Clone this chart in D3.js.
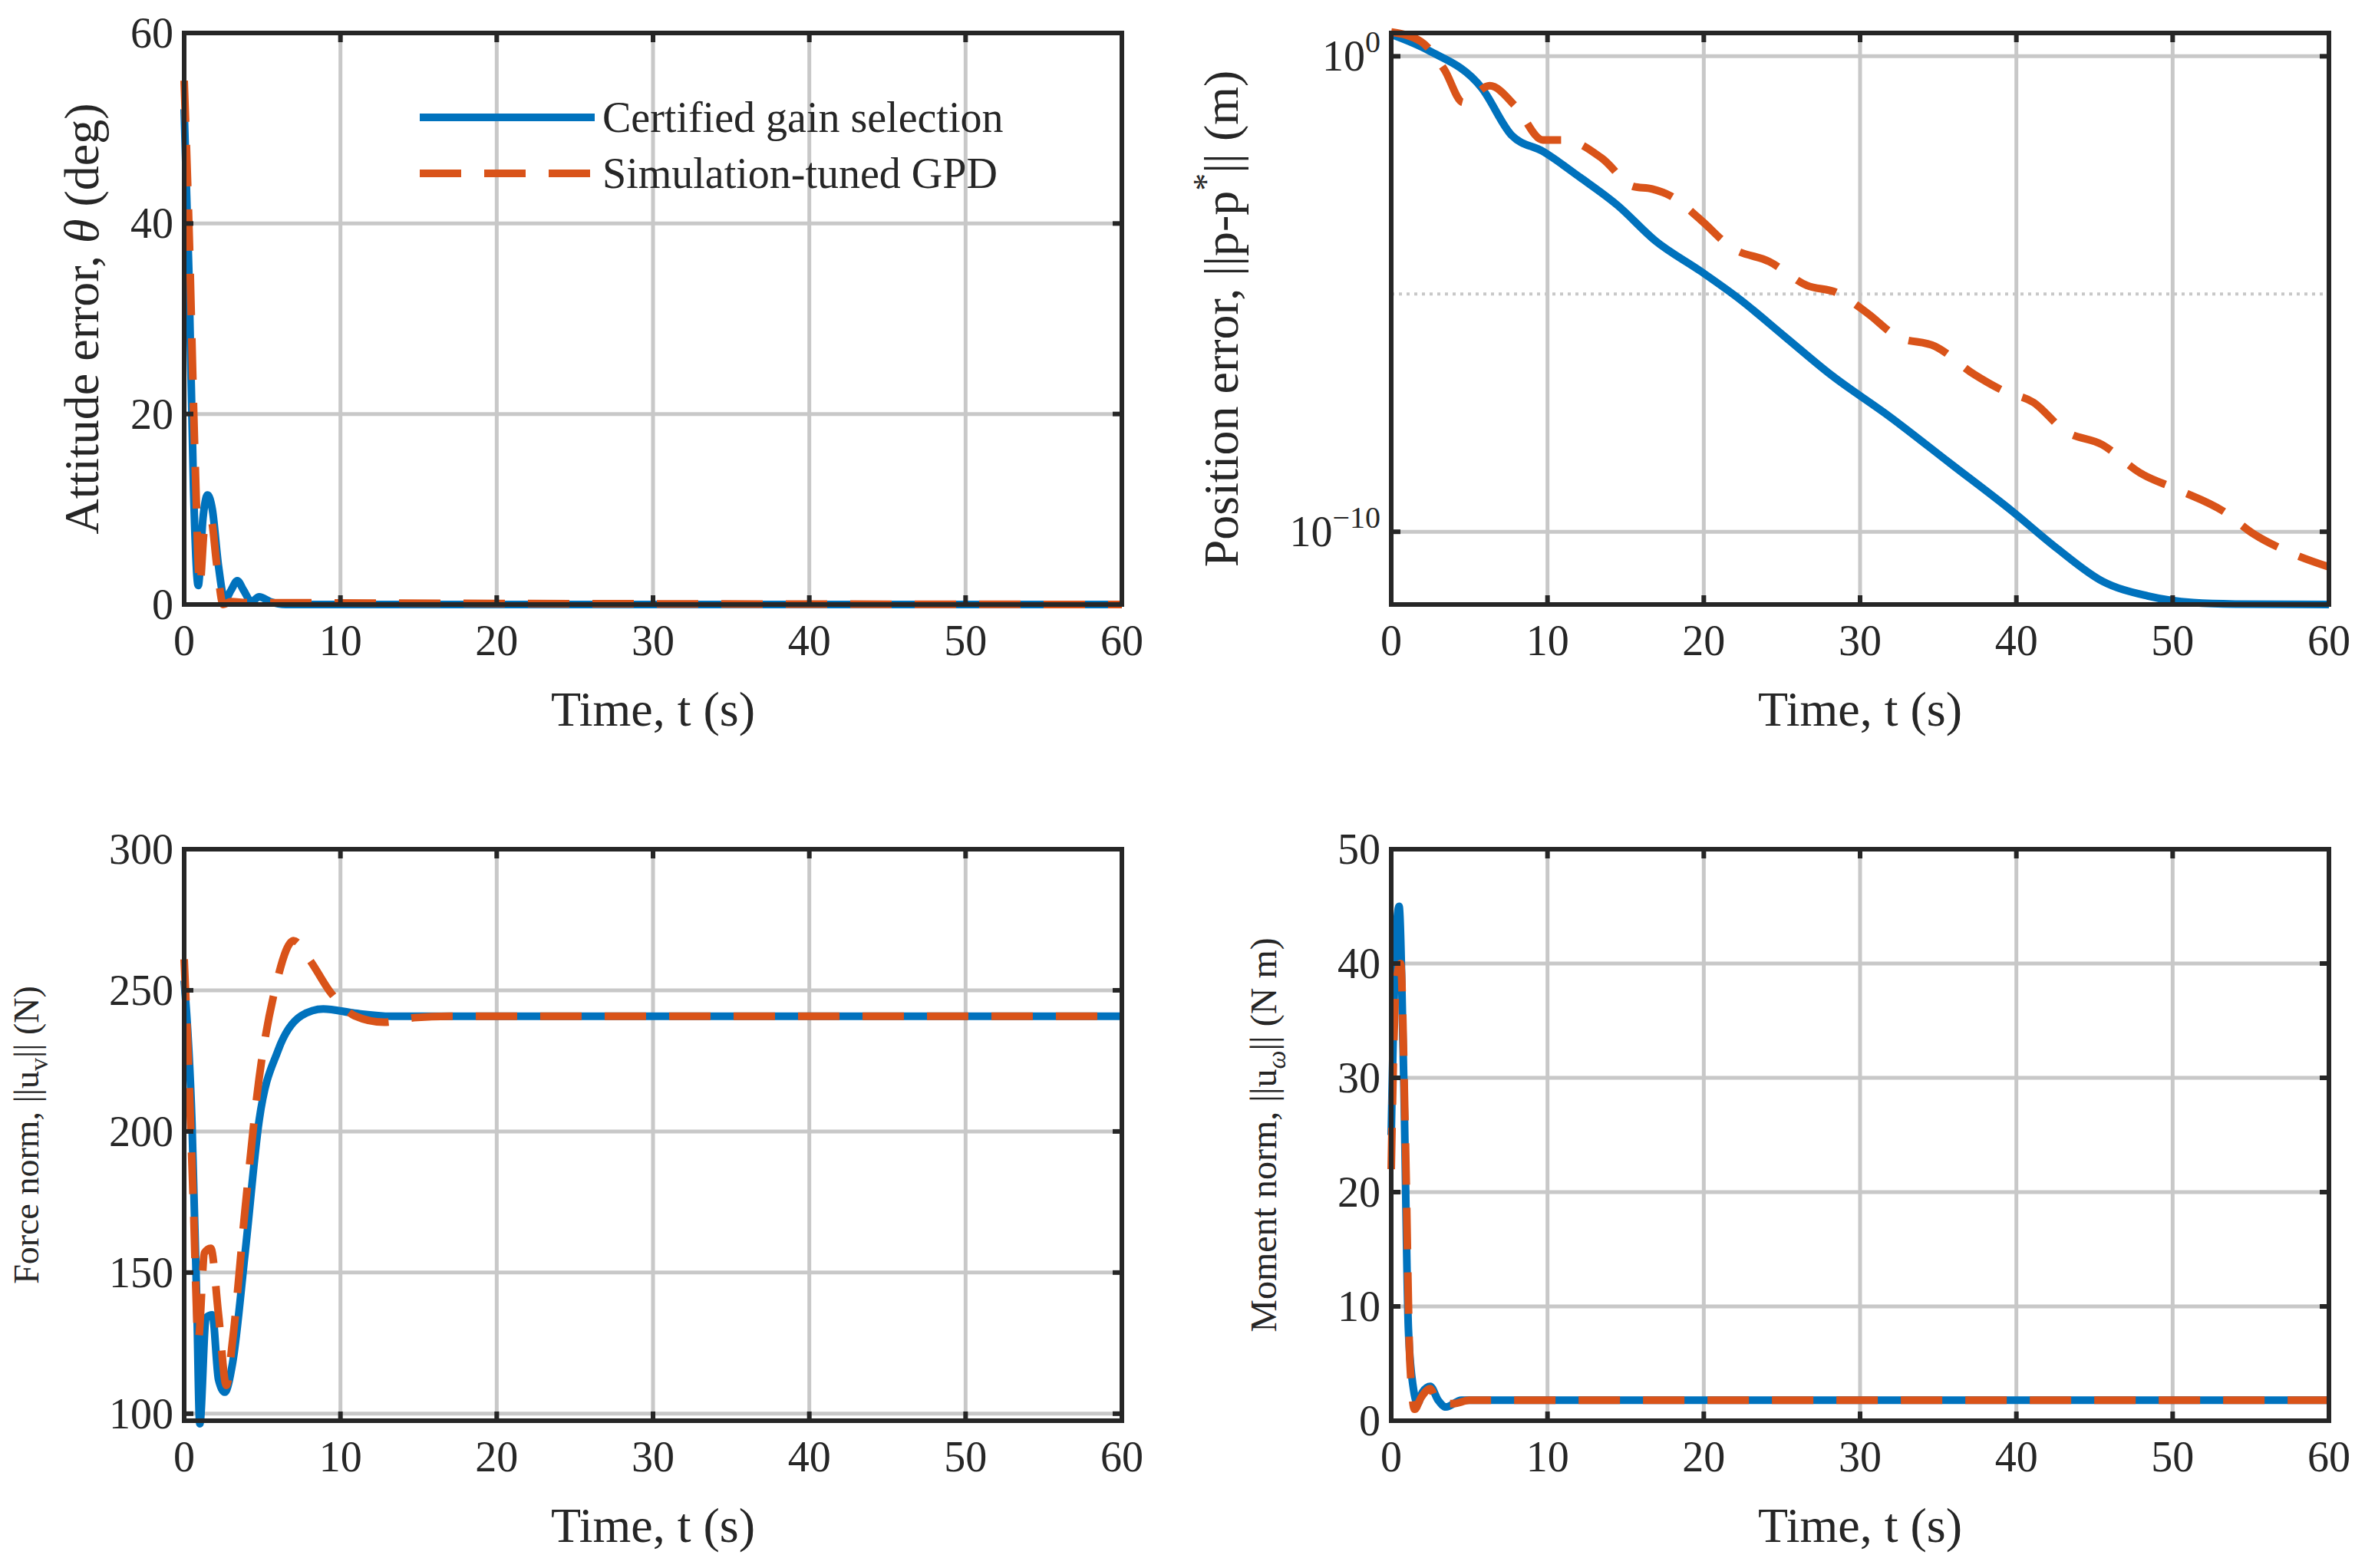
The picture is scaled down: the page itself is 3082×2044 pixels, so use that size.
<!DOCTYPE html>
<html><head><meta charset="utf-8">
<script src="https://cdn.jsdelivr.net/npm/d3@7"></script>
<style>body{margin:0;background:#fff}text{font-family:"Liberation Serif",serif;fill:#262626}</style>
</head><body><svg id="c" width="3082" height="2044"></svg>
<script>
/* ---- data ---- */
const timeTicks = [0, 10, 20, 30, 40, 50, 60];
const seriesNames = ["Certified gain selection", "Simulation-tuned GPD"];

const attBlueT = [0, 0.3, 0.6, 0.9, 1.2, 1.5, 1.8, 2.2, 2.6, 3.0, 3.4, 3.8, 4.3, 4.8, 5.5, 6.5, 60];
const attBlueV = [52, 35, 12, 2, 9, 11.5, 10, 4, 0.5, 1.5, 2.5, 1.5, 0.3, 0.8, 0.3, 0, 0];
const attRedT = [0, 0.3, 0.7, 1.0, 1.3, 1.7, 2.1, 2.5, 3, 4, 60];
const attRedV = [55, 40, 15, 2, 8, 9, 4, 0, 0.3, 0.2, 0];

const posBlueT = [0, 2.4, 5.8, 7.7, 9.7, 12.1, 14.5, 16.9, 19.8, 22.3, 25.2, 28.1, 31.9, 35.8, 39.7, 42.6, 45.5, 48.4, 51.3, 54, 60];
const posBlueLog = [0.46, 0.12, -0.67, -1.66, -2.0, -2.55, -3.14, -3.88, -4.52, -5.11, -5.9, -6.69, -7.58, -8.57, -9.56, -10.35, -11.04, -11.35, -11.49, -11.52, -11.53];
const posRedT = [0, 1.9, 3.4, 4.6, 6.3, 8, 9.7, 11.1, 13.5, 15.5, 16.7, 17.9, 19.8, 21.8, 24.2, 26.6, 28.5, 30.5, 32.4, 34.8, 37.3, 39.2, 41.1, 43.1, 45.5, 47.9, 50.3, 53.2, 55.2, 57.6, 60];
const posRedLog = [0.51, 0.31, -0.28, -0.97, -0.62, -1.07, -1.76, -1.76, -2.15, -2.74, -2.79, -2.94, -3.44, -4.03, -4.32, -4.82, -4.97, -5.41, -5.9, -6.1, -6.69, -7.04, -7.28, -7.88, -8.17, -8.76, -9.11, -9.56, -10.05, -10.45, -10.74];

const forceBlueT = [0, 0.5, 0.8, 1.0, 1.4, 1.8, 2.2, 2.6, 3.1, 3.9, 4.8, 6, 7.5, 8.9, 10.9, 13.3, 60];
const forceBlueV = [253.5, 203, 141, 96.4, 134, 135, 112, 107.6, 118, 157, 204, 228.6, 241, 243.4, 241.9, 240.8, 240.8];
const forceRedT = [0, 0.2, 0.6, 0.9, 1.3, 1.7, 2.2, 2.7, 3.1, 3.9, 4.8, 5.8, 7, 8, 9.4, 10.9, 12.8, 14.7, 17, 60];
const forceRedV = [261, 234.9, 172.5, 126, 157, 158.6, 135, 110, 126, 172.5, 219, 250, 267.6, 261, 249, 241, 238.7, 240.3, 240.8, 240.8];

const momBlueT = [0, 0.3, 0.5, 0.8, 1.1, 1.4, 1.7, 2.0, 2.5, 3.0, 3.5, 4.5, 6, 60];
const momBlueV = [25, 42, 45, 30, 8, 3, 1.5, 2.5, 3, 1.8, 1.2, 1.8, 1.8, 1.8];
const momRedT = [0, 0.3, 0.6, 0.9, 1.2, 1.5, 1.9, 2.5, 3, 4, 5, 60];
const momRedV = [22, 38, 40, 25, 5, 1.0, 2, 2.8, 1.5, 1.5, 1.8, 1.8];

/* ---- layout ---- */
const svg = d3.select("#c");
const BLUE = "#0072BD", RED = "#D95319";
const DASH = "54,30";
const colX = [240, 1813], rowY = [43, 1107], pw = 1222, ph = 745;

function zip(t, v, f) { return t.map((d, i) => [d, f ? f(v[i]) : v[i]]); }

function panel(col, row, opt) {
  const g = svg.append("g").attr("transform", `translate(${colX[col]},${rowY[row]})`);
  const x = d3.scaleLinear().domain([0, 60]).range([0, pw]);
  const y = opt.log ? d3.scaleLog().domain(opt.domain).range([ph, 0])
                    : d3.scaleLinear().domain(opt.domain).range([ph, 0]);
  g.append("rect").attr("width", pw).attr("height", ph).attr("fill", "#fff");
  // grid
  g.selectAll(".gx").data(timeTicks.slice(1, -1)).join("line")
    .attr("x1", d => x(d)).attr("x2", d => x(d)).attr("y1", 0).attr("y2", ph)
    .attr("stroke", "#c8c8c8").attr("stroke-width", 5);
  g.selectAll(".gy").data(opt.ticks).join("line")
    .attr("x1", 0).attr("x2", pw).attr("y1", d => y(d)).attr("y2", d => y(d))
    .attr("stroke", "#c8c8c8").attr("stroke-width", 5);
  if (opt.minor) g.selectAll(".gm").data(opt.minor).join("line")
    .attr("x1", 0).attr("x2", pw).attr("y1", d => y(d)).attr("y2", d => y(d))
    .attr("stroke", "#c8c8c8").attr("stroke-width", 4).attr("stroke-dasharray", "4,6");
  // lines
  const clipId = "clip" + col + row;
  g.append("clipPath").attr("id", clipId).append("rect").attr("x", -6).attr("y", -10).attr("width", pw + 12).attr("height", ph + 20);
  const line = d3.line().x(d => x(d[0])).y(d => y(d[1])).curve(d3.curveMonotoneX);
  g.append("path").datum(opt.blue).attr("d", line).attr("fill", "none")
    .attr("stroke", BLUE).attr("stroke-width", 10).attr("clip-path", `url(#${clipId})`);
  g.append("path").datum(opt.red).attr("d", line).attr("fill", "none")
    .attr("stroke", RED).attr("stroke-width", 10).attr("stroke-dasharray", DASH).attr("clip-path", `url(#${clipId})`);
  // box + ticks
  g.append("rect").attr("width", pw).attr("height", ph).attr("fill", "none").attr("stroke", "#262626").attr("stroke-width", 6);
  timeTicks.forEach(t => {
    g.append("line").attr("x1", x(t)).attr("x2", x(t)).attr("y1", ph).attr("y2", ph - 12).attr("stroke", "#262626").attr("stroke-width", 6);
    g.append("line").attr("x1", x(t)).attr("x2", x(t)).attr("y1", 0).attr("y2", 12).attr("stroke", "#262626").attr("stroke-width", 6);
    g.append("text").attr("x", x(t)).attr("y", ph + 66).attr("text-anchor", "middle").attr("font-size", 56).text(t);
  });
  opt.ticks.forEach(v => {
    g.append("line").attr("x1", 0).attr("x2", 12).attr("y1", y(v)).attr("y2", y(v)).attr("stroke", "#262626").attr("stroke-width", 6);
    g.append("line").attr("x1", pw).attr("x2", pw - 12).attr("y1", y(v)).attr("y2", y(v)).attr("stroke", "#262626").attr("stroke-width", 6);
    const tx = g.append("text").attr("x", -14).attr("y", y(v) + 19).attr("text-anchor", "end").attr("font-size", 56);
    if (opt.log) {
      const e = Math.round(Math.log10(v));
      tx.append("tspan").text("10");
      tx.append("tspan").attr("dy", -24).attr("font-size", 40).text(e < 0 ? "\u2212" + (-e) : e);
    } else tx.text(v);
  });
  g.append("text").attr("x", pw / 2).attr("y", ph + 158).attr("text-anchor", "middle").attr("font-size", 64).text("Time, t (s)");
  const yl = g.append("text").attr("transform", `translate(${opt.labelX},${ph / 2}) rotate(-90)`)
    .attr("text-anchor", "middle").attr("font-size", opt.labelSize || 64);
  opt.label(yl);
  return { g, x, y };
}

// attitude
const p1 = panel(0, 0, {
  domain: [0, 60], ticks: [0, 20, 40, 60],
  blue: zip(attBlueT, attBlueV), red: zip(attRedT, attRedV), labelX: -112,
  label: t => { t.append("tspan").text("Attitude error, "); t.append("tspan").attr("font-style", "italic").text("\u03b8"); t.append("tspan").text(" (deg)"); }
});
// legend
const legY = [110, 183];
seriesNames.forEach((n, i) => {
  p1.g.append("line").attr("x1", 307).attr("x2", 535).attr("y1", legY[i]).attr("y2", legY[i])
    .attr("stroke", i ? RED : BLUE).attr("stroke-width", 10).attr("stroke-dasharray", i ? DASH : null);
  p1.g.append("text").attr("x", 545).attr("y", legY[i] + 19).attr("font-size", 56).text(n);
});
// position (log)
panel(1, 0, {
  log: true, domain: [Math.pow(10, -11.53), Math.pow(10, 0.49)], ticks: [1, 1e-10], minor: [1e-5],
  blue: zip(posBlueT, posBlueLog, v => Math.pow(10, v)), red: zip(posRedT, posRedLog, v => Math.pow(10, v)), labelX: -200,
  label: t => { t.append("tspan").text("Position error, ||p-p"); t.append("tspan").attr("dy", -26).attr("font-size", 46).text("*"); t.append("tspan").attr("dy", 26).text("|| (m)"); }
});
// force
panel(0, 1, {
  domain: [97.5, 300], ticks: [100, 150, 200, 250, 300],
  blue: zip(forceBlueT, forceBlueV), red: zip(forceRedT, forceRedV), labelX: -190, labelSize: 46,
  label: t => { t.append("tspan").text("Force norm, ||u"); t.append("tspan").attr("dy", 12).attr("font-size", 34).text("v"); t.append("tspan").attr("dy", -12).text("|| (N)"); }
});
// moment
panel(1, 1, {
  domain: [0, 50], ticks: [0, 10, 20, 30, 40, 50],
  blue: zip(momBlueT, momBlueV), red: zip(momRedT, momRedV), labelX: -150, labelSize: 48,
  label: t => { t.append("tspan").text("Moment norm, ||u"); t.append("tspan").attr("dy", 12).attr("font-size", 34).attr("font-style", "italic").text("\u03c9"); t.append("tspan").attr("dy", -12).text("|| (N m)"); }
});
</script></body></html>
